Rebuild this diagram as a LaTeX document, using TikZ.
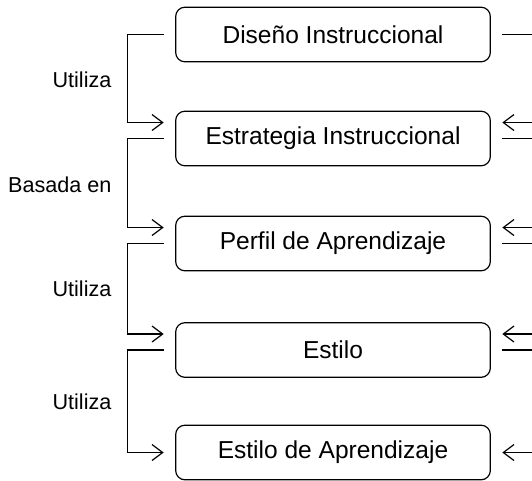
\documentclass[tikz,border=0pt]{standalone}
\usepackage{fontspec}
\setmainfont{Liberation Sans}
\usetikzlibrary{arrows.meta}

\tikzset{
  caja/.style={draw, rounded corners=7pt, minimum width=236pt, minimum height=41pt, outer sep=9pt, font=\fontsize{18.4}{22}\selectfont},
  etiqueta/.style={anchor=east, inner sep=0.75pt, font=\fontsize{16.2}{19}\selectfont},
  flecha/.style={-{Straight Barb[length=8pt,width=12pt]}},
  flechainv/.style={{Straight Barb[length=8pt,width=12pt]}-},
}

\begin{document}
\begin{tikzpicture}[x=0.75pt,y=0.75pt,yscale=-1,xscale=1,line width=0.9pt]
\useasboundingbox (0,0) rectangle (532,480);

% Cajas
\draw (333,34.5) node [caja] (disenio) {Diseño Instruccional};
\draw (333,138.5) node [caja] (estrategia) {Estrategia Instruccional};
\draw (333,243.5) node [caja] (perfil) {Perfil de Aprendizaje};
\draw (333,350) node [caja] (estilo) {Estilo};
\draw (333,452.5) node [caja] (estiloapr) {Estilo de Aprendizaje};

% Conectores izquierda
\draw [flecha] (disenio.west) -- ++(-36,0) |- ([yshift=-12pt]estrategia.west);
\draw [flecha] (estrategia.west) -- ++(-36,0) |- ([yshift=-12pt]perfil.west);
\draw [flecha] (perfil.west) -- ++(-36,0) |- ([yshift=-12pt]estilo.west);
\draw [flecha] (estilo.west) -- ++(-36,0) |- (estiloapr.west);

% Conectores derecha
\draw (disenio.east) -- ++(32,0);
\draw [flechainv] ([yshift=-12pt]estrategia.east) -- ++(32,0);
\draw (estrategia.east) -- ++(32,0);
\draw [flechainv] ([yshift=-12pt]perfil.east) -- ++(32,0);
\draw (perfil.east) -- ++(32,0);
\draw [flechainv] ([yshift=-12pt]estilo.east) -- ++(32,0);
\draw (estilo.east) -- ++(32,0);
\draw [flechainv] (estiloapr.east) -- ++(32,0);

% Text Node
\draw (113,80) node [etiqueta] (usa1) {Utiliza};
% Text Node
\draw (113,185) node [etiqueta] (basada) {Basada en};
% Text Node
\draw (113,289) node [etiqueta] (usa2) {Utiliza};
% Text Node
\draw (113,402) node [etiqueta] (usa3) {Utiliza};

\end{tikzpicture}
\end{document}
